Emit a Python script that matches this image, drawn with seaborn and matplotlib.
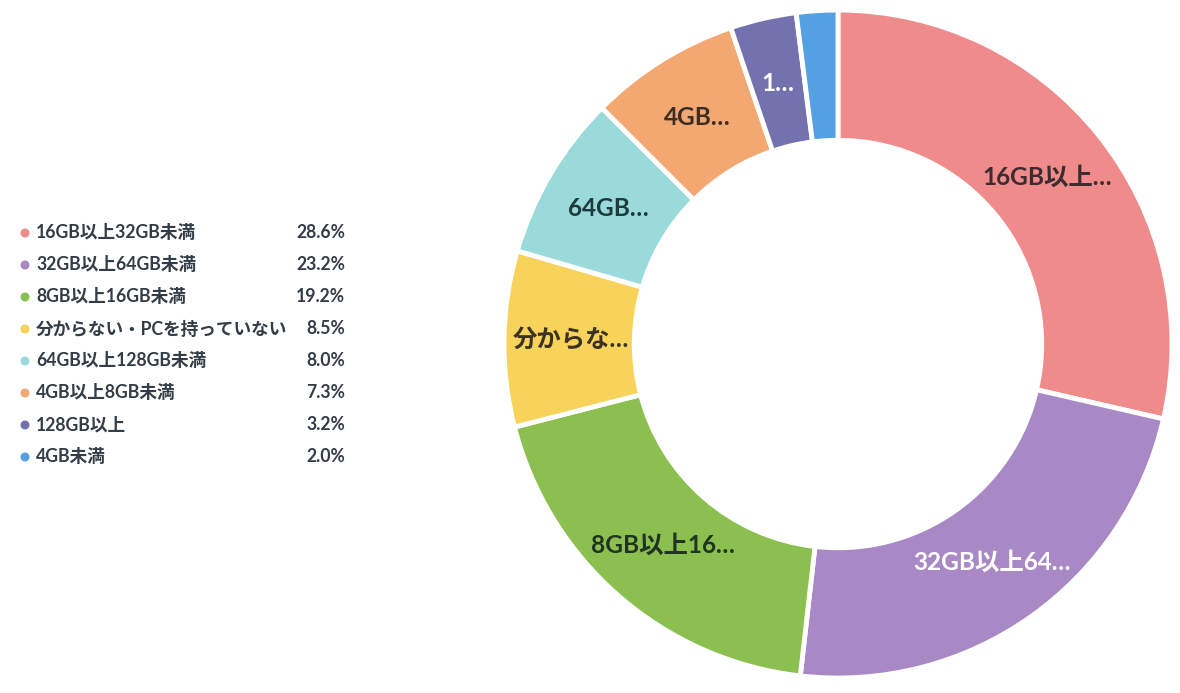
import numpy as np
import seaborn as sns
import matplotlib.pyplot as plt

categories = ['16GB以上32GB未満', '32GB以上64GB未満', '8GB以上16GB未満', '分からない・PCを持っていない',
              '64GB以上128GB未満', '4GB以上8GB未満', '128GB以上', '4GB未満']
values = [28.6, 23.2, 19.2, 8.5, 8.0, 7.3, 3.2, 2.0]
short_labels = ['16GB以上…', '32GB以上64…', '8GB以上16…', '分からな…', '64GB…', '4GB…', '1…', '']
colors = ['#ef8b8a', '#a989c5', '#8bbf4f', '#f7d35c', '#9adada', '#f2a870', '#7371ae', '#53a0e3']
label_colors = ['#3a2c30', '#ffffff', '#1f3421', '#3a3222', '#1f3a3d', '#3a2e26', '#ffffff', '#ffffff']

sns.set_theme(style='white')
plt.rcParams['font.family'] = ['Lato', 'Noto Sans CJK JP', 'DejaVu Sans']

fig = plt.figure(figsize=(11.8, 6.93), dpi=100)

# donut
ax = fig.add_axes([0.4271, 0.0216, 0.5661, 0.9639])
wedges, _ = ax.pie(values, colors=colors, startangle=90, counterclock=False, radius=1,
                   wedgeprops=dict(width=0.39, edgecolor='white', linewidth=3.5))
ax.set_xlim(-1, 1)
ax.set_ylim(-1, 1)
ax.set_aspect('equal')
ax.axis('off')

for w, lab, tc in zip(wedges, short_labels, label_colors):
    ang = np.deg2rad((w.theta1 + w.theta2) / 2)
    r = 0.80
    ax.text(r * np.cos(ang), r * np.sin(ang), lab, ha='center', va='center',
            fontsize=17.6, fontweight='bold', color=tc)

# legend
lax = fig.add_axes([0, 0, 1, 1])
lax.set_xlim(0, 1180)
lax.set_ylim(693, 0)
lax.axis('off')
lax.patch.set_alpha(0)
for i, (c, v, col) in enumerate(zip(categories, values, colors)):
    y = 233 + i * 32
    lax.scatter([25], [y], s=42, color=col, edgecolors='none')
    lax.text(36, y, c, ha='left', va='center', fontsize=12.7, fontweight='bold', color='#333d47')
    lax.text(345, y, f'{v:.1f}%', ha='right', va='center', fontsize=12.7, fontweight='bold', color='#333d47')

fig.savefig('out.png', dpi=100)
